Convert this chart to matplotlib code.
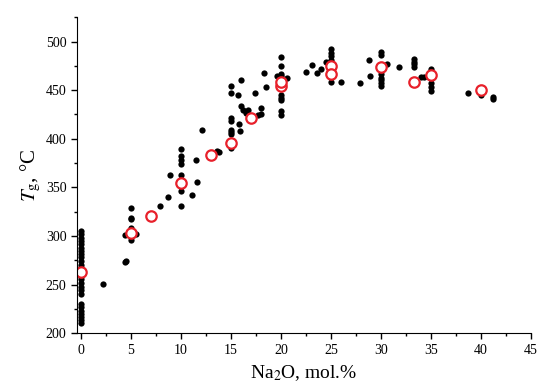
import numpy as np
import matplotlib
matplotlib.use("Agg")
import matplotlib.pyplot as plt
from matplotlib.ticker import MultipleLocator

plt.rcParams['font.family'] = ['Liberation Serif', 'DejaVu Serif']
plt.rcParams['mathtext.fontset'] = 'stix'

# experimental Tg data (black dots)
na2o_exp = [0]*26 + [
    2.2, 4.5, 4.4, 4.4, 5, 5, 5, 5, 5, 5, 5, 5.5,
    7.9, 8.7, 8.9, 10, 10, 10, 10, 10, 10, 10, 10, 11.1, 11.6, 11.5, 12.1,
    13.6, 13.8,
    15, 15, 15, 15, 15, 15, 15, 15, 15.7, 15.8, 15.9, 16, 16, 16.2, 16.5, 16.7,
    17.4, 17.7, 18, 18, 18.3, 18.5,
    19.6, 20, 20, 20, 20, 20, 20, 20, 20, 20, 20.6,
    22.5, 23.1, 23.6, 24, 24.5, 25, 25, 25, 25, 25, 26, 27.9, 28.8, 28.9,
    30, 30, 30, 30, 30, 30, 30, 30.6, 31.8,
    33.3, 33.3, 33.3, 33.3, 34, 34.3, 35, 35, 35, 35,
    38.7, 40, 41.2, 41.2,
]
tg_exp = [
    211, 214, 217, 220, 223, 227, 230, 240, 244, 248, 252, 256, 259, 263,
    267, 270, 274, 278, 281, 285, 288, 292, 295, 298, 302, 305,
    251, 274, 273, 301, 329, 319, 317, 308, 304, 302, 296, 302,
    331, 340, 363, 389, 382, 378, 374, 363, 352, 346, 331, 342, 356, 378, 409,
    387, 386,
    454, 447, 421, 418, 409, 407, 405, 391, 445, 415, 408, 460, 434, 430, 427, 430,
    447, 424, 432, 425, 468, 453,
    465, 484, 475, 467, 465, 445, 442, 440, 429, 424, 463,
    469, 476, 468, 472, 479, 492, 488, 485, 481, 458, 458, 457, 481, 465,
    489, 486, 467, 463, 460, 457, 454, 477, 474,
    482, 479, 477, 474, 464, 464, 472, 457, 453, 449,
    447, 445, 443, 441,
]

# averaged values (red circles)
na2o_mean = [0, 5, 7, 10, 13, 15, 17, 20, 20, 25, 25, 30, 33.3, 35, 40]
tg_mean = [263, 303, 321, 355, 383, 396, 421, 454, 458, 475, 467, 474, 458, 466, 450]

fig = plt.figure(figsize=(5.5, 3.92), dpi=100)
ax = fig.add_axes([0.14, 0.15, 0.825, 0.806])

ax.plot(na2o_exp, tg_exp, 'o', color='black', markersize=4.5, markeredgewidth=0)
ax.plot(na2o_mean, tg_mean, 'o', markerfacecolor='white', markeredgecolor='#e8202a',
        markersize=7.5, markeredgewidth=1.6)

ax.set_xlim(-0.4, 45)
ax.set_ylim(200, 525)
ax.spines['top'].set_visible(False)
ax.spines['right'].set_visible(False)
ax.xaxis.set_major_locator(MultipleLocator(5))
ax.xaxis.set_minor_locator(MultipleLocator(2.5))
ax.yaxis.set_major_locator(MultipleLocator(50))
ax.yaxis.set_minor_locator(MultipleLocator(25))
ax.tick_params(which='major', length=4, width=1, labelsize=10)
ax.tick_params(which='minor', length=2.5, width=1)

ax.set_xlabel('Na$_2$O, mol.%', fontsize=14, labelpad=5)
ax.set_ylabel(r'$T_{\rm g}$, °C', fontsize=15, labelpad=2)

fig.savefig('out.png', dpi=100)
